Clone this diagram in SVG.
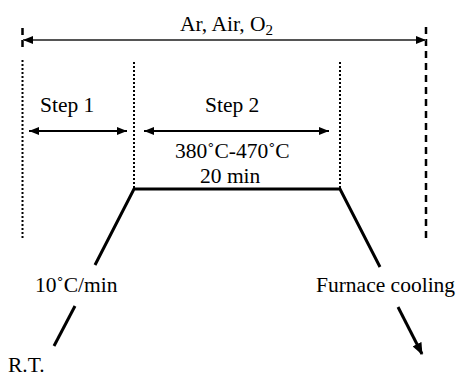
<svg xmlns="http://www.w3.org/2000/svg" width="467" height="376" viewBox="0 0 467 376">
<style>
text{font-family:"Liberation Serif","Times New Roman",serif;font-size:21.5px;fill:#000}
.dot{stroke:#000;stroke-width:2;stroke-dasharray:2 2;fill:none}
.dash{stroke:#000;stroke-width:2.5;stroke-dasharray:7 5;fill:none}
.ramp{stroke:#000;stroke-width:3;fill:none}
.span{stroke:#000;stroke-width:2;fill:none}
</style>
<defs>
<marker id="ah" viewBox="0 0 10 8" refX="10" refY="4" markerWidth="10" markerHeight="8" markerUnits="userSpaceOnUse" orient="auto-start-reverse"><path d="M0,0L10,4L0,8z" fill="#000"/></marker>
<marker id="ahg" viewBox="0 0 10 8" refX="10" refY="4" markerWidth="10" markerHeight="8" markerUnits="userSpaceOnUse" orient="auto-start-reverse"><path d="M0,0L10,4L0,8z" fill="#000"/></marker>
<marker id="ahb" viewBox="0 0 12 10" refX="11" refY="5" markerWidth="12" markerHeight="10" markerUnits="userSpaceOnUse" orient="auto"><path d="M0,0L12,5L0,10z" fill="#000"/></marker>
</defs>
<g id="guides">
<line class="dash" x1="22.5" y1="28" x2="22.5" y2="48"/>
<line class="dot" x1="22.5" y1="60" x2="22.5" y2="238"/>
<line class="dot" x1="134" y1="62" x2="134" y2="188"/>
<line class="dot" x1="340" y1="62" x2="340" y2="188"/>
<line class="dash" x1="426" y1="27" x2="426" y2="238"/>
</g>
<g id="connectors">
<line x1="23" y1="40" x2="426" y2="40" stroke="#555" stroke-width="2" marker-start="url(#ahg)" marker-end="url(#ahg)"/>
<line class="span" x1="29" y1="131" x2="127" y2="131" marker-start="url(#ah)" marker-end="url(#ah)"/>
<line class="span" x1="144" y1="131" x2="329" y2="131" marker-start="url(#ah)" marker-end="url(#ah)"/>
<path class="ramp" d="M95,265L134,189L340,189L380,267"/>
<line class="ramp" x1="75" y1="306" x2="54" y2="346"/>
<line class="ramp" x1="398" y1="307" x2="422" y2="354" marker-end="url(#ahb)"/>
</g>
<g id="atmosphere"><text x="180" y="31">Ar, Air, O<tspan font-size="15" dy="4">2</tspan></text></g>
<g id="step1"><text x="40" y="112">Step 1</text></g>
<g id="step2"><text x="205" y="112">Step 2</text>
<text x="175" y="158">380˚C-470˚C</text>
<text x="200" y="183">20 min</text></g>
<g id="heating"><text x="35" y="292">10˚C/min</text></g>
<g id="cooling"><text x="316" y="292">Furnace cooling</text></g>
<g id="rt"><text x="8" y="372">R.T.</text></g>
</svg>
